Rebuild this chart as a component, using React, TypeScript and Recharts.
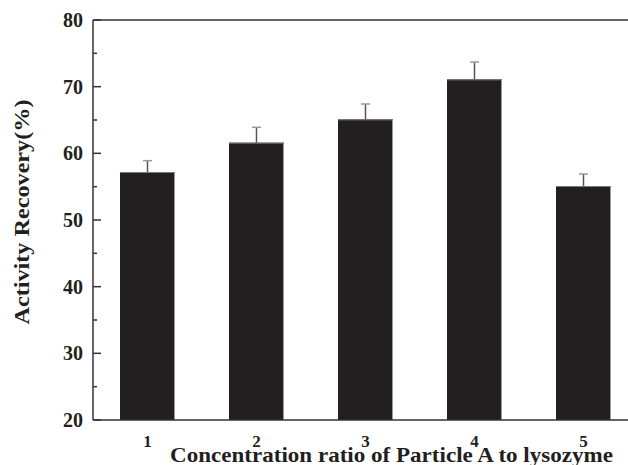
import React from 'react';
import { BarChart, Bar, XAxis, YAxis, ReferenceLine } from 'recharts';

const categories = ['1', '2', '3', '4', '5'];
const recovery = [57.2, 61.6, 65.1, 71.1, 55.1];
const errors = [1.7, 2.3, 2.3, 2.6, 1.8];
const yTicks = [20, 25, 30, 35, 40, 45, 50, 55, 60, 65, 70, 75, 80];

const data = categories.map((c, i) => ({ cat: c, value: recovery[i], err: errors[i] }));

const FONT = '"Liberation Serif", "Times New Roman", serif';
const AXIS = '#333333';
const DOMAIN_MIN = 20;

const BarWithError = (props: any) => {
  const { x, y, width, height, payload } = props;
  const pxPerUnit = height / (payload.value - DOMAIN_MIN);
  const errTop = y - payload.err * pxPerUnit;
  const cx = x + width / 2;
  return (
    <g>
      <rect x={x} y={y} width={width} height={height} fill="#231f20" />
      <line x1={x + width - 0.5} y1={y} x2={x + width - 0.5} y2={y + height} stroke="#9a9a9a" strokeWidth={1} />
      <line x1={x} y1={y + 0.5} x2={x + width} y2={y + 0.5} stroke="#7a7a7a" strokeWidth={1} />
      <line x1={cx} y1={y} x2={cx} y2={errTop} stroke="#555555" strokeWidth={1.5} />
      <line x1={cx - 4.5} y1={errTop} x2={cx + 4.5} y2={errTop} stroke="#999999" strokeWidth={1.5} />
    </g>
  );
};

const YTick = (props: any) => {
  const { x, y, payload, tickMargin } = props;
  const axisX = x + (tickMargin ?? 10);
  const major = payload.value % 10 === 0;
  return (
    <g>
      <line x1={axisX} y1={y} x2={axisX + (major ? 8 : 4)} y2={y} stroke={AXIS} strokeWidth={1.5} />
      {major && (
        <text x={x} y={y} dy="0.35em" textAnchor="end" fontFamily={FONT} fontWeight="bold" fontSize={20} fill="#231f20">
          {payload.value}
        </text>
      )}
    </g>
  );
};

const XTick = (props: any) => {
  const { x, y, payload } = props;
  return (
    <text x={x} y={y} dy="0.71em" textAnchor="middle" fontFamily={FONT} fontWeight="bold" fontSize={17} fill="#231f20">
      {payload.value}
    </text>
  );
};

const YTitle = (props: any) => {
  const { viewBox } = props;
  const cx = viewBox.x + 22;
  const cy = viewBox.y + viewBox.height / 2 - 8;
  return (
    <text x={cx} y={cy} transform={`rotate(-90, ${cx}, ${cy})`} textAnchor="middle" dominantBaseline="central"
      fontFamily={FONT} fontWeight="bold" fontSize={21} fill="#231f20" textLength={225} lengthAdjust="spacingAndGlyphs">
      Activity Recovery(%)
    </text>
  );
};

const XTitle = (props: any) => {
  const { viewBox } = props;
  const cx = viewBox.x + viewBox.width / 2 + 26;
  const by = viewBox.y + 42;
  return (
    <text x={cx} y={by} textAnchor="middle" fontFamily={FONT} fontWeight="bold" fontSize={21} fill="#231f20"
      textLength={443} lengthAdjust="spacingAndGlyphs">
      Concentration ratio of Particle A to lysozyme
    </text>
  );
};

export default function App() {
  return (
    <div style={{ position: 'absolute', left: 0, top: 0, width: 628, height: 465, overflow: 'hidden', background: '#fff' }}>
      <BarChart width={660} height={465} data={data} margin={{ top: 20, right: 22, bottom: 0, left: 0 }} barSize={55}>
        <XAxis
          dataKey="cat"
          height={45}
          axisLine={{ stroke: AXIS, strokeWidth: 1.5 }}
          tickLine={false}
          tickSize={0}
          tickMargin={15}
          tick={<XTick />}
          interval={0}
          label={<XTitle />}
        />
        <YAxis
          domain={[20, 80]}
          ticks={yTicks}
          interval={0}
          width={93}
          axisLine={{ stroke: AXIS, strokeWidth: 1.5 }}
          tickLine={false}
          tickSize={0}
          tickMargin={10}
          tick={<YTick />}
          allowDataOverflow
          label={<YTitle />}
        />
        <ReferenceLine y={80} stroke={AXIS} strokeWidth={1.5} />
        <Bar dataKey="value" isAnimationActive={false} shape={<BarWithError />} />
      </BarChart>
    </div>
  );
}
